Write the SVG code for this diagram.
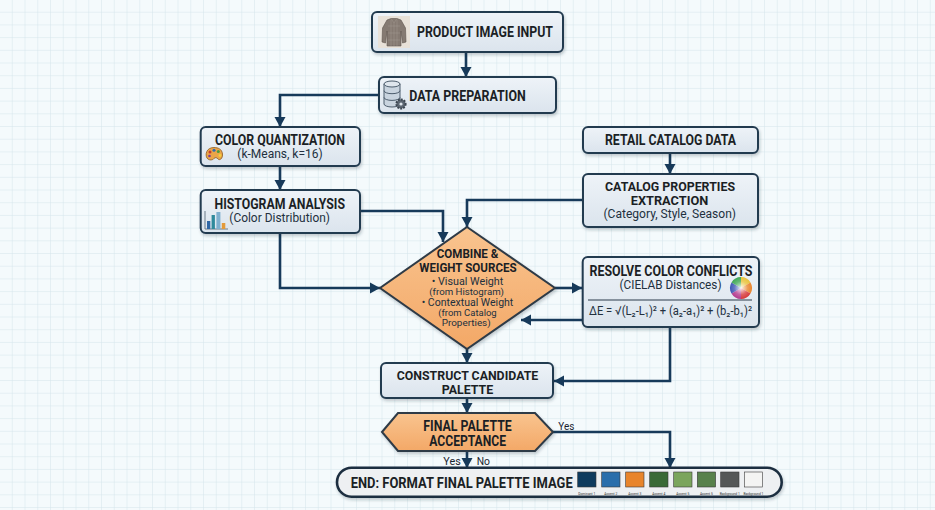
<svg xmlns="http://www.w3.org/2000/svg" width="935" height="510" viewBox="0 0 935 510">
<defs>
<pattern id="grid" width="12.75" height="12.7" patternUnits="userSpaceOnUse">
<path d="M12.75 0V12.7M0 12.7H12.75" fill="none" stroke="#d2e4ea" stroke-width="0.9"/>
</pattern>
<linearGradient id="boxg" x1="0" y1="0" x2="0" y2="1">
<stop offset="0" stop-color="#eef3f8"/><stop offset="1" stop-color="#dbe4ed"/>
</linearGradient>
<linearGradient id="orag" x1="0" y1="0" x2="0" y2="1">
<stop offset="0" stop-color="#f9c48f"/><stop offset="1" stop-color="#f3a867"/>
</linearGradient>
<radialGradient id="wheelc">
<stop offset="0" stop-color="#ffffff" stop-opacity="0.9"/><stop offset="0.6" stop-color="#ffffff" stop-opacity="0.2"/><stop offset="1" stop-color="#ffffff" stop-opacity="0"/>
</radialGradient>
<filter id="sh" x="-10%" y="-20%" width="120%" height="150%">
<feDropShadow dx="1" dy="2" stdDeviation="1.6" flood-color="#1a2a3a" flood-opacity="0.25"/>
</filter>
<marker id="ah" markerUnits="userSpaceOnUse" markerWidth="12" markerHeight="12" refX="10" refY="6" orient="auto">
<path d="M0 0.5L10 6L0 11.5Z" fill="#173a5a"/>
</marker>
<style>
.box{fill:url(#boxg);stroke:#223a50;stroke-width:2;filter:url(#sh)}
.dec{fill:url(#orag);stroke:#2e3a46;stroke-width:2;filter:url(#sh)}
.t{font-family:Roboto,"Liberation Sans",sans-serif;font-weight:700;fill:#1b1f25;font-size:14px}
.s{font-family:Roboto,"Liberation Sans",sans-serif;font-weight:400;fill:#22303e;font-size:12.5px}
.d{font-family:Roboto,"Liberation Sans",sans-serif;font-weight:400;fill:#22303e;font-size:10.5px}
.lb{font-family:Roboto,"Liberation Sans",sans-serif;font-weight:400;fill:#1b2530;font-size:11.5px}
.sw{stroke:#3a3a3a;stroke-width:0.6}
.swl{font-family:Roboto,"Liberation Sans",sans-serif;font-size:3.6px;fill:#333;text-anchor:middle}
.c{fill:none;stroke:#173a5a;stroke-width:2.6;stroke-linejoin:miter;marker-end:url(#ah)}
</style>
</defs>
<rect width="935" height="510" fill="#f4fafc"/>
<rect width="935" height="510" fill="url(#grid)"/>

<g id="connectors">
<path class="c" d="M466 52V77"/>
<path class="c" d="M379 95H280V127"/>
<path class="c" d="M280 166V190"/>
<path class="c" d="M360 211H443V242"/>
<path class="c" d="M280 233V288H380"/>
<path class="c" d="M670 153V174"/>
<path class="c" d="M583 200H467V227"/>
<path class="c" d="M555 288H582"/>
<path class="c" d="M582 320H521"/>
<path class="c" d="M670 327V381H554"/>
<path class="c" d="M467 349V363"/>
<path class="c" d="M467 398V413"/>
<path class="c" d="M553 432H670V468"/>
<path class="c" d="M467 451V468"/>
<text class="lb" x="558.3" y="430" textLength="16" lengthAdjust="spacingAndGlyphs">Yes</text>
<text class="lb" x="443.3" y="464.5" textLength="17.4" lengthAdjust="spacingAndGlyphs">Yes</text>
<text class="lb" x="476.7" y="464.5" textLength="13.3" lengthAdjust="spacingAndGlyphs">No</text>
</g>

<g id="product-image-input">
<rect class="box" x="372" y="12" width="191" height="40" rx="5"/>
<rect x="378" y="16" width="32" height="32" fill="#e8e1d8"/>
<path d="M387 20L391 18.5L397 18.5L401 20L405.5 28L406 42L402.5 43L401 31L401 46L387 46L387 31L385.5 43L382 42L382.5 28Z" fill="#857a72" stroke="#5e544e" stroke-width="0.6"/>
<path d="M391 18.5L394 23L397 18.5M394 23V46M388 26H400M388 33H400M388 40H400M391 20V46M397 20V46" stroke="#a39890" stroke-width="0.5" fill="none"/>
<text class="t" x="417" y="36.7" style="font-size:14.5px" textLength="136" lengthAdjust="spacingAndGlyphs">PRODUCT IMAGE INPUT</text>
</g>

<g id="data-preparation">
<rect class="box" x="379" y="77" width="177" height="36" rx="5"/>
<path d="M384 84V104A8 3 0 0 0 400 104V84" fill="#c9d4df" stroke="#4c5c6c" stroke-width="1"/>
<ellipse cx="392" cy="84" rx="8" ry="3" fill="#dfe6ed" stroke="#4c5c6c" stroke-width="1"/>
<path d="M384 90.7A8 3 0 0 0 400 90.7M384 97.4A8 3 0 0 0 400 97.4" fill="none" stroke="#4c5c6c" stroke-width="1"/>
<circle cx="401" cy="104" r="4.6" fill="#5b6672" stroke="#3b4550" stroke-width="2" stroke-dasharray="1.8 1.2"/>
<circle cx="401" cy="104" r="1.6" fill="#dfe6ed"/>
<text class="t" x="409.3" y="100.5" style="font-size:14.5px" textLength="116.4" lengthAdjust="spacingAndGlyphs">DATA PREPARATION</text>
</g>

<g id="color-quantization">
<rect class="box" x="200.7" y="127" width="159.3" height="39" rx="5"/>
<path d="M214 147.5C206 147.5 205 155 207 158C209 161 213 160 214 158.5C215 157 217 157.5 218 159C220 161 223 158 222.5 154C222 149 218 147.5 214 147.5Z" fill="#eba549" stroke="#8b5a1f" stroke-width="0.8"/>
<circle cx="210" cy="152" r="1.5" fill="#c63b2d"/><circle cx="214" cy="150.3" r="1.5" fill="#2f6bb0"/><circle cx="218.3" cy="151.5" r="1.5" fill="#4c9a3e"/><circle cx="220" cy="155.5" r="1.4" fill="#f2d13a"/><circle cx="209.5" cy="156" r="1.3" fill="#7a3d96"/>
<text class="t" x="215" y="144.8" textLength="130" lengthAdjust="spacingAndGlyphs">COLOR QUANTIZATION</text>
<text class="s" x="237.3" y="158.3" textLength="85.4" lengthAdjust="spacingAndGlyphs">(k-Means, k=16)</text>
</g>

<g id="histogram-analysis">
<rect class="box" x="200.7" y="190" width="159.3" height="43" rx="5"/>
<path d="M205 211V229H228" fill="none" stroke="#6b7a88" stroke-width="1"/>
<rect x="207" y="221" width="3.3" height="8" fill="#2f67a6"/>
<rect x="211.6" y="215" width="3.3" height="14" fill="#2f8a9c"/>
<rect x="216.4" y="212" width="4" height="17" fill="#7fb0cf"/>
<rect x="221.8" y="223" width="3.5" height="6" fill="#e39a3a"/>
<text class="t" x="214.5" y="208.8" textLength="130.5" lengthAdjust="spacingAndGlyphs">HISTOGRAM ANALYSIS</text>
<text class="s" x="229.3" y="222.3" textLength="100.7" lengthAdjust="spacingAndGlyphs">(Color Distribution)</text>
</g>

<g id="retail-catalog-data">
<rect class="box" x="583" y="127" width="175" height="26" rx="5"/>
<text class="t" x="605" y="145" textLength="131" lengthAdjust="spacingAndGlyphs">RETAIL CATALOG DATA</text>
</g>

<g id="catalog-properties-extraction">
<rect class="box" x="583" y="174" width="175" height="53" rx="5"/>
<text class="t" x="605" y="190.7" style="font-size:13px" textLength="130" lengthAdjust="spacingAndGlyphs">CATALOG PROPERTIES</text>
<text class="t" x="630.7" y="204.5" style="font-size:13px" textLength="77.6" lengthAdjust="spacingAndGlyphs">EXTRACTION</text>
<text class="s" x="603.5" y="217.5" style="font-size:12px" textLength="132.5" lengthAdjust="spacingAndGlyphs">(Category, Style, Season)</text>
</g>

<g id="combine-weight-sources">
<path class="dec" d="M467 227L555 288L467 349L380 288Z"/>
<text class="t" x="436.7" y="258.3" style="font-size:12px" textLength="61.7" lengthAdjust="spacingAndGlyphs">COMBINE &amp;</text>
<text class="t" x="419.3" y="272.3" style="font-size:12px" textLength="97.4" lengthAdjust="spacingAndGlyphs">WEIGHT SOURCES</text>
<text class="d" x="431.7" y="284.5" textLength="71.6" lengthAdjust="spacingAndGlyphs">• Visual Weight</text>
<text class="d" x="429.3" y="294.8" style="font-size:9.8px" textLength="74.7" lengthAdjust="spacingAndGlyphs">(from Histogram)</text>
<text class="d" x="421.7" y="306.3" style="font-size:10px" textLength="91.6" lengthAdjust="spacingAndGlyphs">• Contextual Weight</text>
<text class="d" x="438.3" y="316.4" style="font-size:9.6px" textLength="58.4" lengthAdjust="spacingAndGlyphs">(from Catalog</text>
<text class="d" x="441.7" y="326.4" style="font-size:9.6px" textLength="49" lengthAdjust="spacingAndGlyphs">Properties)</text>
</g>

<g id="resolve-color-conflicts">
<rect class="box" x="582.7" y="257" width="176.3" height="70" rx="5"/>
<text class="t" x="589.5" y="275.5" textLength="163" lengthAdjust="spacingAndGlyphs">RESOLVE COLOR CONFLICTS</text>
<text class="s" x="619.5" y="289.3" textLength="102" lengthAdjust="spacingAndGlyphs">(CIELAB Distances)</text>
<g id="color-wheel">
<path d="M741 288L741 277A11 11 0 0 1 750.5 282.5Z" fill="#e8c23a"/>
<path d="M741 288L750.5 282.5A11 11 0 0 1 750.5 293.5Z" fill="#e8842c"/>
<path d="M741 288L750.5 293.5A11 11 0 0 1 741 299Z" fill="#d6393a"/>
<path d="M741 288L741 299A11 11 0 0 1 731.5 293.5Z" fill="#b43a8e"/>
<path d="M741 288L731.5 293.5A11 11 0 0 1 731.5 282.5Z" fill="#3f58b5"/>
<path d="M741 288L731.5 282.5A11 11 0 0 1 741 277Z" fill="#3fa855"/>
<circle cx="741" cy="288" r="11" fill="url(#wheelc)"/>
</g>
<path d="M588 300H752" stroke="#2a3a4a" stroke-width="1"/>
<text class="s" x="589" y="315" style="font-size:12px" textLength="163" lengthAdjust="spacingAndGlyphs">ΔE = √(L₂-L₁)² + (a₂-a₁)² + (b₂-b₁)²</text>
</g>

<g id="construct-candidate-palette">
<rect class="box" x="381" y="363" width="172" height="35" rx="5"/>
<text class="t" x="396.7" y="379.6" style="font-size:13px" textLength="141.6" lengthAdjust="spacingAndGlyphs">CONSTRUCT CANDIDATE</text>
<text class="t" x="441.7" y="393.8" style="font-size:13px" textLength="51.6" lengthAdjust="spacingAndGlyphs">PALETTE</text>
</g>

<g id="final-palette-acceptance">
<path class="dec" d="M382 432L398 413H535L553 432L535 451H398Z"/>
<text class="t" x="423.3" y="431.3" textLength="88.4" lengthAdjust="spacingAndGlyphs">FINAL PALETTE</text>
<text class="t" x="429.3" y="445.8" textLength="76.7" lengthAdjust="spacingAndGlyphs">ACCEPTANCE</text>
</g>

<g id="end-format-final-palette-image">
<rect x="337" y="467.7" width="444.7" height="29" rx="14.5" fill="#eef0f2" stroke="#1d2f40" stroke-width="2.6" filter="url(#sh)"/>
<text class="t" x="350.7" y="488" style="font-size:15px" textLength="222" lengthAdjust="spacingAndGlyphs">END: FORMAT FINAL PALETTE IMAGE</text>
<rect class="sw" x="577.7" y="472" width="18.3" height="15" fill="#0f3b5e"/>
<rect class="sw" x="601.7" y="472" width="18.3" height="15" fill="#2a6eab"/>
<rect class="sw" x="625.7" y="472" width="18.3" height="15" fill="#e8842b"/>
<rect class="sw" x="649.7" y="472" width="18.3" height="15" fill="#3a6a36"/>
<rect class="sw" x="673.7" y="472" width="18.3" height="15" fill="#7ba55c"/>
<rect class="sw" x="697.3" y="472" width="18.3" height="15" fill="#58814b"/>
<rect class="sw" x="720.7" y="472" width="18.3" height="15" fill="#555757"/>
<rect class="sw" x="744.3" y="472" width="18.3" height="15" fill="#f4f4f3"/>
<text class="swl" x="586.8" y="494.6" textLength="17" lengthAdjust="spacingAndGlyphs">Dominant 1</text>
<text class="swl" x="610.8" y="494.6" textLength="13" lengthAdjust="spacingAndGlyphs">Accent 2</text>
<text class="swl" x="634.8" y="494.6" textLength="13" lengthAdjust="spacingAndGlyphs">Accent 3</text>
<text class="swl" x="658.8" y="494.6" textLength="13" lengthAdjust="spacingAndGlyphs">Accent 4</text>
<text class="swl" x="682.8" y="494.6" textLength="13" lengthAdjust="spacingAndGlyphs">Accent 5</text>
<text class="swl" x="706.4" y="494.6" textLength="13" lengthAdjust="spacingAndGlyphs">Accent 5</text>
<text class="swl" x="729.8" y="494.6" textLength="20" lengthAdjust="spacingAndGlyphs">Background 1</text>
<text class="swl" x="753.4" y="494.6" textLength="20" lengthAdjust="spacingAndGlyphs">Background 1</text>
</g>
</svg>
